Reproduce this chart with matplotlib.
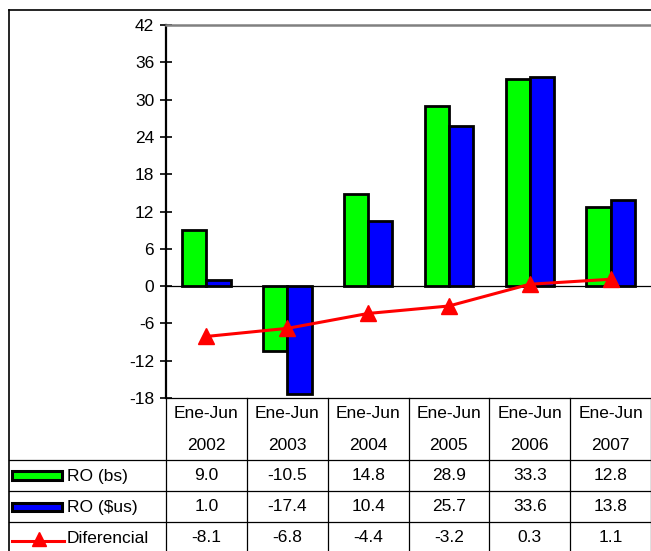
import matplotlib
matplotlib.use('Agg')
import matplotlib.pyplot as plt
import numpy as np
from matplotlib.lines import Line2D
from matplotlib.patches import Rectangle

plt.rcParams['font.family'] = ['Liberation Sans', 'DejaVu Sans']
plt.rcParams['font.size'] = 12.5

periodos = ['Ene-Jun', 'Ene-Jun', 'Ene-Jun', 'Ene-Jun', 'Ene-Jun', 'Ene-Jun']
anios = ['2002', '2003', '2004', '2005', '2006', '2007']
ro_bs = [9.0, -10.5, 14.8, 28.9, 33.3, 12.8]
ro_us = [1.0, -17.4, 10.4, 25.7, 33.6, 13.8]
diferencial = [-8.1, -6.8, -4.4, -3.2, 0.3, 1.1]
yticks = [-18, -12, -6, 0, 6, 12, 18, 24, 30, 36, 42]

W, H = 651, 551
fig = plt.figure(figsize=(W / 100, H / 100), dpi=100)

def fx(px):
    return px / W

def fy(py):
    return 1 - py / H

# plot area in pixels
L, R, T, B = 166, 651, 25, 398
ax = fig.add_axes([fx(L), fy(B), fx(R) - fx(L), fy(T) - fy(B)])

x = np.arange(len(anios))
w = 0.3
ax.bar(x - w / 2, ro_bs, w, color='#00ff00', edgecolor='black', linewidth=2, zorder=3)
ax.bar(x + w / 2, ro_us, w, color='#0000ff', edgecolor='black', linewidth=2, zorder=3)
ax.plot(x, diferencial, color='red', linewidth=2.2, marker='^', markersize=11, zorder=4)
ax.axhline(0, color='black', linewidth=0.9, zorder=2)

ax.set_xlim(-0.5, len(anios) - 0.5)
ax.set_ylim(-18, 42)
ax.set_yticks(yticks)
ax.set_yticklabels([str(t) for t in yticks], fontsize=12.5)
ax.set_xticks([])
ax.tick_params(axis='y', direction='inout', length=9, width=1.2, pad=4)
ax.spines['left'].set_linewidth(1.6)
ax.spines['top'].set_color('#808080')
ax.spines['top'].set_linewidth(1.8)
ax.spines['right'].set_visible(False)
ax.spines['bottom'].set_linewidth(0.9)

# data table below the plot
def hline(y, x0, x1, lw=0.9):
    fig.add_artist(Line2D([fx(x0), fx(x1)], [fy(y), fy(y)], color='black', linewidth=lw))

def vline(xp, y0, y1, lw=0.9):
    fig.add_artist(Line2D([fx(xp), fx(xp)], [fy(y0), fy(y1)], color='black', linewidth=lw))

rows = [460, 491, 522, 553]
colw = (R - L) / len(anios)
hline(rows[0], 9, R)
hline(rows[1], 9, R)
hline(rows[2], 9, R)
for i in range(len(anios) + 1):
    vline(L + i * colw, B, H)

for i in range(len(anios)):
    cx = fx(L + (i + 0.5) * colw)
    fig.text(cx, fy(413), periodos[i], ha='center', va='center')
    fig.text(cx, fy(445), anios[i], ha='center', va='center')
    for r, serie in enumerate([ro_bs, ro_us, diferencial]):
        yc = (rows[r] + rows[r + 1]) / 2
        fig.text(cx, fy(yc), f'{serie[i]:.1f}', ha='center', va='center')

# legend keys in first column
etiquetas = ['RO (bs)', 'RO ($us)', 'Diferencial']
for r, (lab, col) in enumerate(zip(etiquetas, ['#00ff00', '#0000ff', None])):
    yc = (rows[r] + rows[r + 1]) / 2
    if col is not None:
        fig.add_artist(Rectangle((fx(12), fy(yc + 4)), fx(62) - fx(12), fy(yc - 4) - fy(yc + 4),
                                 facecolor=col, edgecolor='black', linewidth=2.2))
    else:
        fig.add_artist(Line2D([fx(12), fx(64)], [fy(yc + 3), fy(yc + 3)], color='red', linewidth=2.2))
        fig.add_artist(Line2D([fx(39)], [fy(yc + 1)], color='red', marker='^', markersize=10, linestyle='none'))
    fig.text(fx(67), fy(yc + 1), lab.replace('$', r'\$'), ha='left', va='center')

# outer chart border
hline(10, 9, W, lw=1.2)
vline(9, 10, H, lw=1.2)

fig.savefig('out.png', dpi=100)
